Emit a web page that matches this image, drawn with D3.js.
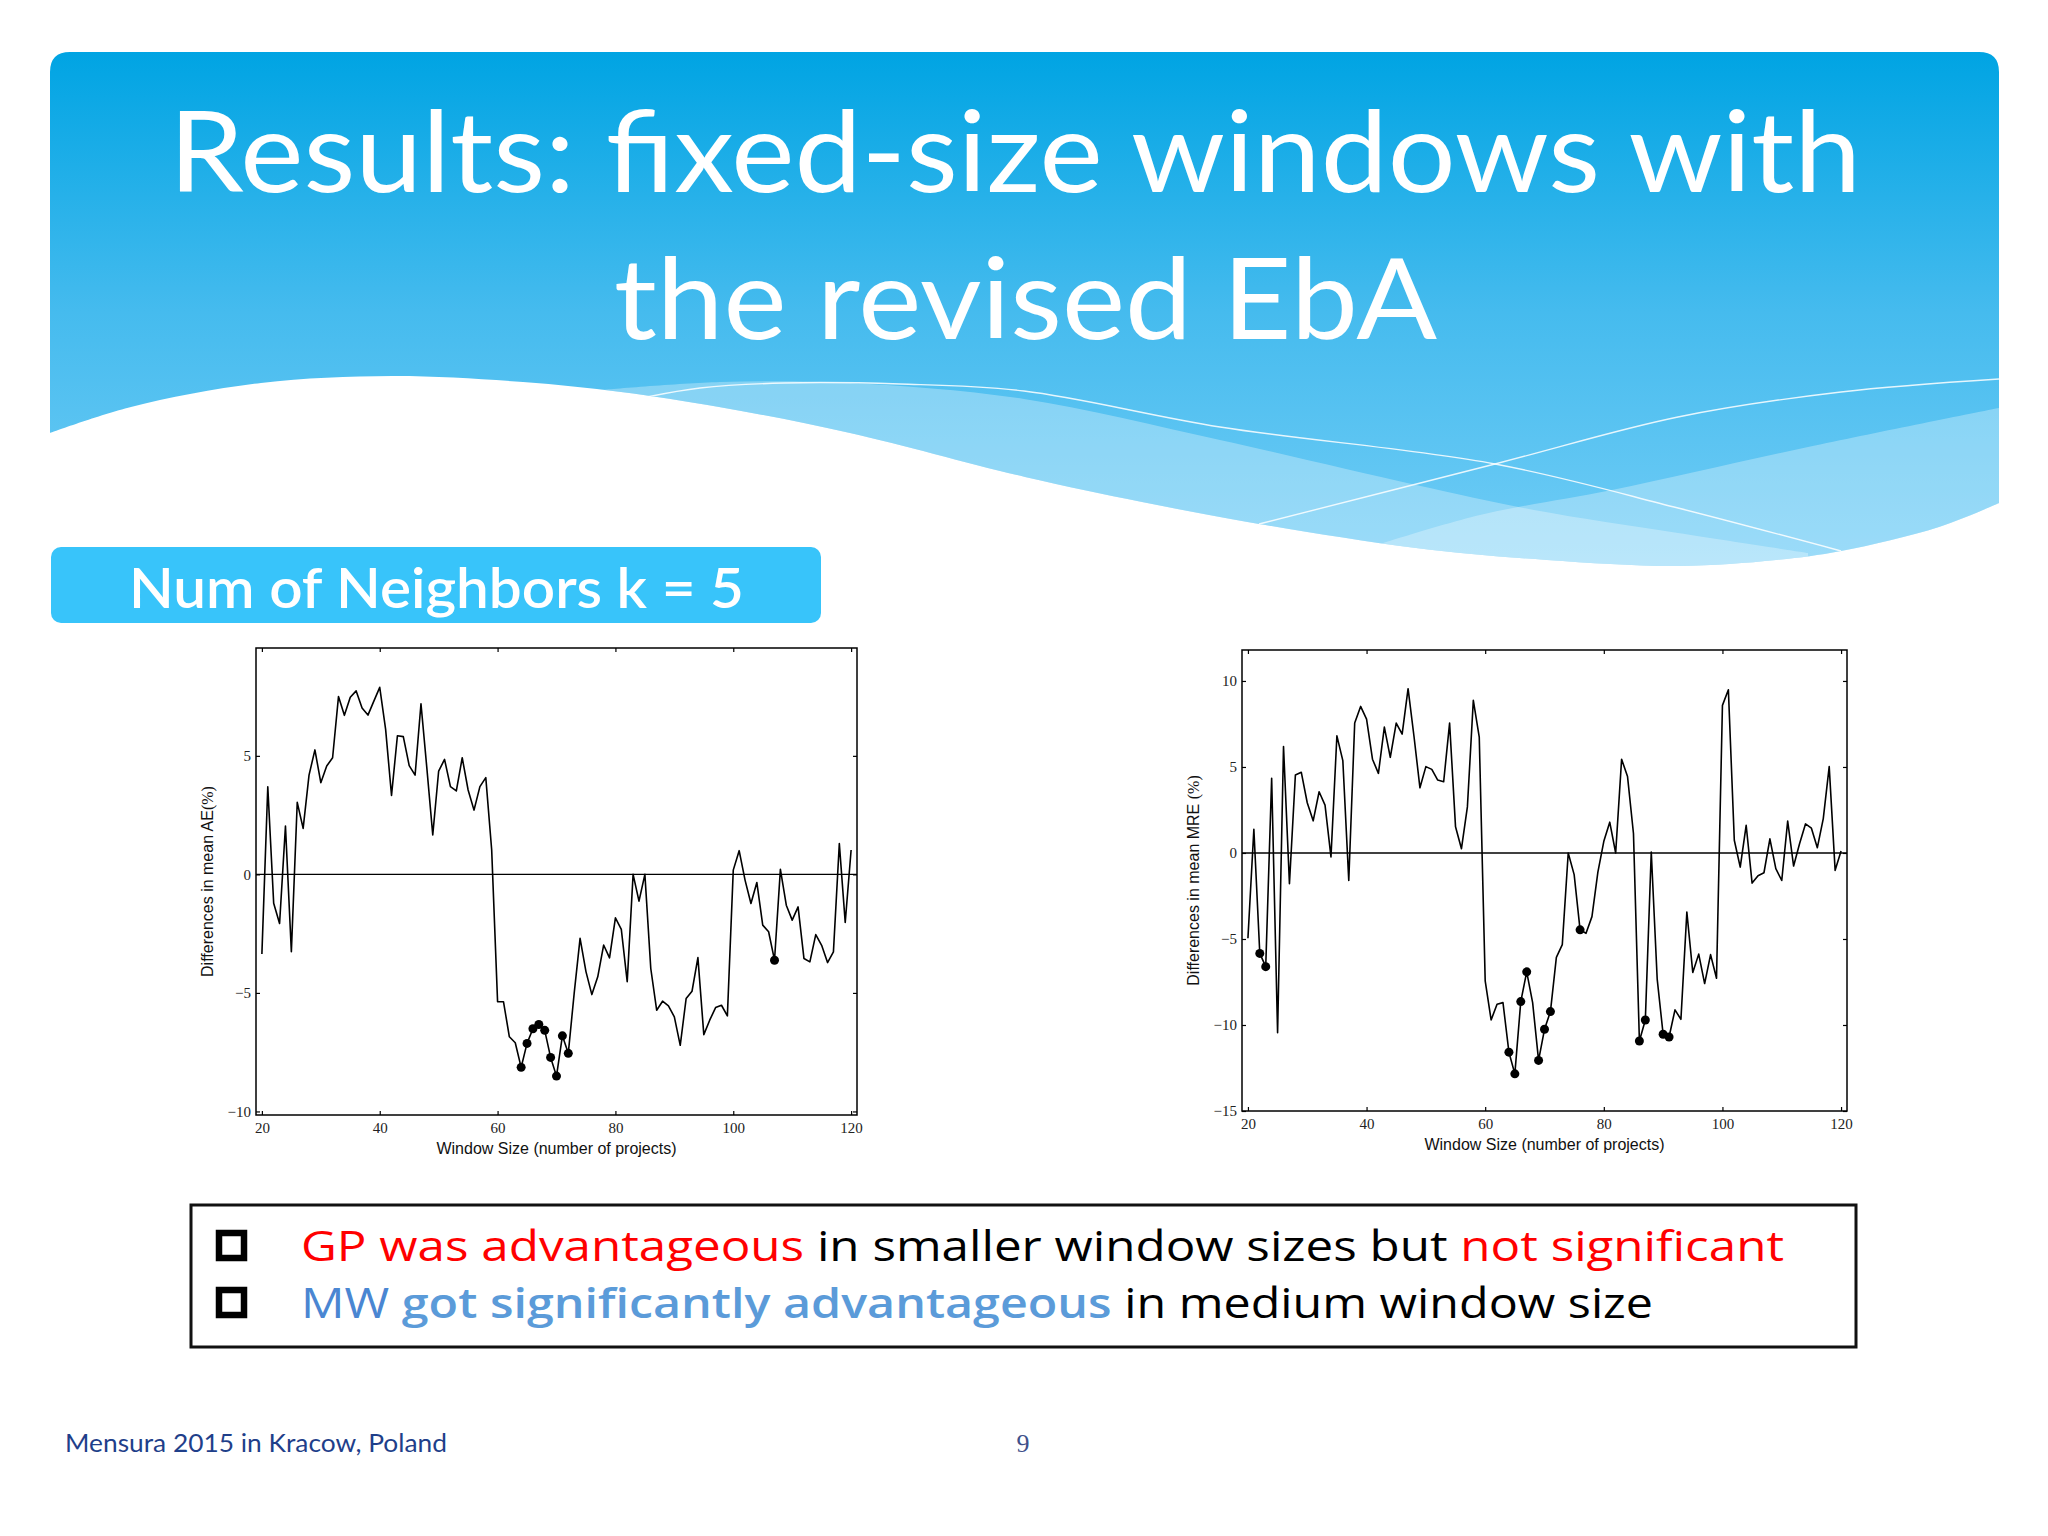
<!DOCTYPE html>
<html>
<head>
<meta charset="utf-8">
<script src="https://cdn.jsdelivr.net/npm/d3@7"></script>
<style>
  html, body { margin: 0; padding: 0; background: #ffffff; }
  svg { display: block; }
</style>
</head>
<body>
<svg id="slide" width="2048" height="1536"></svg>
<script>
// Slide texts
var titleLines = ["Results: fixed-size windows with", "the revised EbA"];
var subtitle = "Num of Neighbors k = 5";
var footerText = "Mensura 2015 in Kracow, Poland";
var pageNumber = "9";

// Window sizes (x axis categories) shared by both charts
var windowSizes = d3.range(20, 121);

// Differences in mean AE (%) for window sizes 20..120
var aeDiff = [
    -3.36, 3.70, -1.22, -2.07, 2.04, -3.26, 3.04, 1.94, 4.19, 5.25,
    3.87, 4.57, 4.92, 7.50, 6.71, 7.47, 7.74, 7.02, 6.72, 7.31,
    7.89, 6.12, 3.33, 5.85, 5.81, 4.59, 4.19, 7.20, 4.47, 1.66,
    4.36, 4.85, 3.70, 3.52, 4.92, 3.56, 2.71, 3.70, 4.08, 1.03,
    -5.37, -5.37, -6.85, -7.10, -8.14, -7.13, -6.51, -6.33, -6.58, -7.72,
    -8.51, -6.81, -7.55, -5.02, -2.70, -4.10, -5.07, -4.32, -2.98, -3.52,
    -1.83, -2.32, -4.53, 0.00, -1.13, 0.00, -3.97, -5.73, -5.35, -5.55,
    -6.01, -7.21, -5.24, -4.93, -3.51, -6.76, -6.15, -5.62, -5.52, -5.97,
    0.18, 1.00, -0.24, -1.23, -0.34, -2.14, -2.42, -3.62, 0.21, -1.30,
    -1.93, -1.37, -3.55, -3.69, -2.54, -2.99, -3.72, -3.27, 1.30, -2.03,
    1.03
];
// Window sizes marked as significant (filled dots)
var aeSignificant = [64, 65, 66, 67, 68, 69, 70, 71, 72, 107];

// Differences in mean MRE (%) for window sizes 20..120
var mreDiff = [
    -4.96, 1.38, -5.84, -6.61, 4.34, -10.45, 6.19, -1.79, 4.53, 4.69,
    2.92, 1.87, 3.56, 2.78, -0.23, 6.81, 5.37, -1.60, 7.55, 8.52,
    7.78, 5.45, 4.63, 7.32, 5.56, 7.55, 6.91, 9.55, 6.77, 3.79,
    5.02, 4.86, 4.24, 4.14, 7.55, 1.52, 0.25, 2.68, 8.87, 6.73,
    -7.43, -9.71, -8.79, -8.70, -11.58, -12.84, -8.64, -6.91, -8.70, -12.06,
    -10.25, -9.22, -6.07, -5.33, 0.00, -1.26, -4.47, -4.67, -3.70, -1.11,
    0.68, 1.79, 0.00, 5.45, 4.44, 1.13, -10.93, -9.71, 0.06, -7.33,
    -10.54, -10.70, -9.12, -9.67, -3.44, -6.95, -5.88, -7.59, -5.91, -7.28,
    8.58, 9.49, 0.74, -0.82, 1.61, -1.75, -1.32, -1.15, 0.82, -0.91,
    -1.60, 1.85, -0.76, 0.54, 1.69, 1.44, 0.31, 2.00, 5.02, -1.01,
    0.12
];
var mreSignificant = [22, 23, 64, 65, 66, 67, 69, 70, 71, 76, 86, 87, 90, 91];

// Tick values
var xTicks = [20, 40, 60, 80, 100, 120];
var aeTicks = [-10, -5, 0, 5];
var mreTicks = [-15, -10, -5, 0, 5, 10];

var svg = d3.select("#slide");
var defs = svg.append("defs");

// ---------- Header banner with wave ----------
var grad = defs.append("linearGradient")
    .attr("id", "bannerGrad")
    .attr("gradientUnits", "userSpaceOnUse")
    .attr("x1", 0).attr("y1", 52).attr("x2", 0).attr("y2", 570);
grad.append("stop").attr("offset", 0).attr("stop-color", "#00a4e3");
grad.append("stop").attr("offset", 0.5).attr("stop-color", "#45bbee");
grad.append("stop").attr("offset", 1).attr("stop-color", "#72cdf6");

// bottom edge of the banner, right to left
var waveEdge = [[1999, 503], [1939, 527], [1841, 551], [1776, 560], [1678, 566],
    [1547, 560], [1416, 548], [1259, 524], [1142, 502], [1025, 477], [850, 433],
    [719, 407], [621, 392], [523, 382], [392, 376], [261, 383], [131, 407], [50, 433]];

var smooth = d3.line().curve(d3.curveCatmullRom.alpha(0.5));
var bannerPath = "M50,433 L50,72 Q50,52 70,52 L1979,52 Q1999,52 1999,72 " +
    smooth(waveEdge).replace(/^M/, "L") + " Z";

defs.append("clipPath").attr("id", "bannerClip")
    .append("path").attr("d", bannerPath);

svg.append("path")
    .attr("d", bannerPath)
    .attr("fill", "url(#bannerGrad)");

var bands = svg.append("g").attr("clip-path", "url(#bannerClip)");

var bandA = [[601, 390], [720, 382], [850, 383], [1024, 399], [1220, 440],
    [1416, 485], [1534, 510], [1678, 533], [1808, 553]];
var bandB = [[1377, 545], [1480, 515], [1612, 490], [1808, 447], [1999, 408], [2020, 404]];

bands.append("path")
    .attr("d", smooth(bandA) + " L1808,640 L601,640 Z")
    .attr("fill", "#ffffff").attr("fill-opacity", 0.3);
bands.append("path")
    .attr("d", smooth(bandB) + " L2020,640 L1377,640 Z")
    .attr("fill", "#ffffff").attr("fill-opacity", 0.3);

var thinLine1 = [[647, 397], [700, 388], [784, 383], [900, 384], [1024, 391],
    [1220, 427], [1495, 464], [1678, 508], [1841, 551]];
var thinLine2 = [[1259, 524], [1495, 464], [1678, 417], [1841, 392], [1999, 379]];

[thinLine1, thinLine2].forEach(function(pts) {
    bands.append("path")
        .attr("d", smooth(pts))
        .attr("fill", "none")
        .attr("stroke", "#ffffff")
        .attr("stroke-opacity", 0.85)
        .attr("stroke-width", 1.4);
});

// Title
var titleBoxes = [{x: 169, y: 192, w: 1692}, {x: 614, y: 339, w: 823}];
svg.selectAll(".title")
    .data(titleLines)
    .enter()
    .append("text")
    .attr("class", "title")
    .attr("x", function(d, i) { return titleBoxes[i].x; })
    .attr("y", function(d, i) { return titleBoxes[i].y; })
    .attr("textLength", function(d, i) { return titleBoxes[i].w; })
    .attr("lengthAdjust", "spacingAndGlyphs")
    .style("font-family", "Lato, 'Open Sans', sans-serif")
    .style("font-size", "112px")
    .style("fill", "#ffffff")
    .text(function(d) { return d; });

// Subtitle box
svg.append("rect")
    .attr("x", 51).attr("y", 547)
    .attr("width", 770).attr("height", 76)
    .attr("rx", 10)
    .attr("fill", "#38c4fa");
svg.append("text")
    .attr("x", 129).attr("y", 608)
    .attr("textLength", 615)
    .attr("lengthAdjust", "spacingAndGlyphs")
    .style("font-family", "Lato, 'Open Sans', sans-serif")
    .style("font-weight", "600")
    .style("font-size", "55px")
    .style("fill", "#ffffff")
    .text(subtitle);

// ---------- Charts ----------
function drawChart(cfg) {
    var x = d3.scaleLinear().domain([19, 121]).range([cfg.left, cfg.right]);
    var y = d3.scaleLinear().domain(cfg.yDomain).range([cfg.bottom, cfg.top]);
    var g = svg.append("g");

    var tickFont = "'Liberation Serif', 'DejaVu Serif', serif";

    function styleAxis(sel) {
        sel.select(".domain").remove();
        sel.selectAll(".tick line").attr("stroke", "#000").attr("stroke-width", 1.2);
        sel.selectAll(".tick text")
            .style("font-family", tickFont)
            .style("font-size", "15px")
            .style("fill", "#222");
    }

    g.append("g")
        .attr("transform", "translate(0," + cfg.bottom + ")")
        .call(d3.axisBottom(x).tickValues(xTicks).tickSizeInner(-4).tickSizeOuter(0).tickPadding(7))
        .call(styleAxis);
    g.append("g")
        .attr("transform", "translate(0," + cfg.top + ")")
        .call(d3.axisTop(x).tickValues(xTicks).tickSizeInner(-4).tickSizeOuter(0).tickFormat(""))
        .call(styleAxis);
    g.append("g")
        .attr("transform", "translate(" + cfg.left + ",0)")
        .call(d3.axisLeft(y).tickValues(cfg.yTicks).tickSizeInner(-4).tickSizeOuter(0).tickPadding(5))
        .call(styleAxis);
    g.append("g")
        .attr("transform", "translate(" + cfg.right + ",0)")
        .call(d3.axisRight(y).tickValues(cfg.yTicks).tickSizeInner(-4).tickSizeOuter(0).tickFormat(""))
        .call(styleAxis);

    // zero line
    g.append("line")
        .attr("x1", cfg.left).attr("x2", cfg.right)
        .attr("y1", y(0)).attr("y2", y(0))
        .attr("stroke", "#000").attr("stroke-width", 1.3);

    var points = windowSizes.map(function(w, i) { return {w: w, v: cfg.values[i]}; });

    g.append("path")
        .datum(points)
        .attr("fill", "none")
        .attr("stroke", "#000")
        .attr("stroke-width", 1.6)
        .attr("stroke-linejoin", "round")
        .attr("d", d3.line()
            .x(function(d) { return x(d.w); })
            .y(function(d) { return y(d.v); }));

    g.selectAll(".dot")
        .data(points.filter(function(d) { return cfg.significant.indexOf(d.w) >= 0; }))
        .enter()
        .append("circle")
        .attr("class", "dot")
        .attr("cx", function(d) { return x(d.w); })
        .attr("cy", function(d) { return y(d.v); })
        .attr("r", 4.5)
        .attr("fill", "#000");

    // frame
    g.append("rect")
        .attr("x", cfg.left).attr("y", cfg.top)
        .attr("width", cfg.right - cfg.left)
        .attr("height", cfg.bottom - cfg.top)
        .attr("fill", "none")
        .attr("stroke", "#000")
        .attr("stroke-width", 1.5);

    // axis labels
    g.append("text")
        .attr("x", (cfg.left + cfg.right) / 2)
        .attr("y", cfg.bottom + 39)
        .attr("text-anchor", "middle")
        .style("font-family", "'Liberation Sans', Arial, sans-serif")
        .style("font-size", "16px")
        .style("fill", "#111")
        .text("Window Size (number of projects)");

    var yl = g.append("text")
        .attr("transform", "translate(" + (cfg.left - 49) + "," + ((cfg.top + cfg.bottom) / 2) + ") rotate(-90)")
        .attr("text-anchor", "middle")
        .attr("dominant-baseline", "central")
        .style("font-family", "'Liberation Sans', Arial, sans-serif")
        .style("font-size", "16px")
        .style("fill", "#111");
    yl.append("tspan").text(cfg.yLabel);
    yl.append("tspan").style("font-family", tickFont).text("(%)");
}

drawChart({
    left: 256, right: 857, top: 648, bottom: 1115,
    yDomain: [-10.15, 9.55], yTicks: aeTicks,
    values: aeDiff, significant: aeSignificant,
    yLabel: "Differences in mean AE"
});

drawChart({
    left: 1242, right: 1847, top: 650, bottom: 1111,
    yDomain: [-15, 11.8], yTicks: mreTicks,
    values: mreDiff, significant: mreSignificant,
    yLabel: "Differences in mean MRE "
});

// ---------- Conclusions box ----------
svg.append("rect")
    .attr("x", 191).attr("y", 1205)
    .attr("width", 1665).attr("height", 142)
    .attr("fill", "#ffffff")
    .attr("stroke", "#111")
    .attr("stroke-width", 3);

var bulletFont = "'Open Sans', Lato, sans-serif";
var bullets = [
    {y: 1261, w: 1483, parts: [
        {t: "GP was advantageous", c: "#ff0000", b: false},
        {t: " in smaller window sizes but ", c: "#000000", b: false},
        {t: "not significant", c: "#ff0000", b: false}]},
    {y: 1318, w: 1352, parts: [
        {t: "MW ", c: "#4a86d2", b: false},
        {t: "got significantly advantageous", c: "#5b9bd9", b: true},
        {t: " in medium window size", c: "#000000", b: false}]}
];

bullets.forEach(function(line) {
    svg.append("rect")
        .attr("x", 219).attr("y", line.y - 28)
        .attr("width", 25).attr("height", 25)
        .attr("fill", "none")
        .attr("stroke", "#000")
        .attr("stroke-width", 6.5);

    var t = svg.append("text")
        .attr("x", 301).attr("y", line.y)
        .attr("textLength", line.w)
        .attr("lengthAdjust", "spacingAndGlyphs")
        .style("font-family", bulletFont)
        .style("font-size", "42px");
    line.parts.forEach(function(p) {
        t.append("tspan")
            .style("fill", p.c)
            .style("font-weight", p.b ? "600" : "400")
            .text(p.t);
    });
});

// ---------- Footer ----------
svg.append("text")
    .attr("x", 65).attr("y", 1452)
    .attr("textLength", 382)
    .attr("lengthAdjust", "spacingAndGlyphs")
    .style("font-family", "Lato, 'Open Sans', sans-serif")
    .style("font-size", "25px")
    .style("fill", "#1f3f8a")
    .text(footerText);

svg.append("text")
    .attr("x", 1023).attr("y", 1452)
    .attr("text-anchor", "middle")
    .style("font-family", "'Liberation Serif', serif")
    .style("font-size", "26px")
    .style("fill", "#40508a")
    .text(pageNumber);
</script>
</body>
</html>
